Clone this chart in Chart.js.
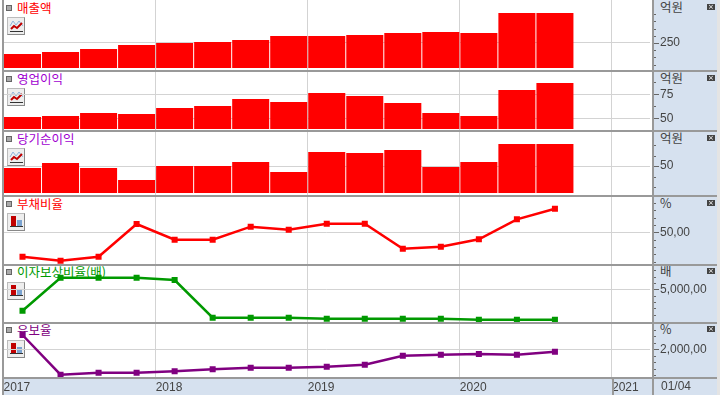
<!DOCTYPE html>
<html lang="ko">
<head>
<meta charset="UTF-8">
<title>재무 차트</title>
<script src="https://cdn.jsdelivr.net/npm/chart.js"></script>
<style>
  html, body { margin: 0; padding: 0; background: #fff; overflow: hidden; }
  #wrap { position: relative; width: 720px; height: 395px; font-family: "Noto Sans CJK KR", sans-serif; }
  #wrap > * { position: absolute; }
  canvas { left: 0; z-index: 2; }
  .side { left: 653px; top: 0; width: 64px; height: 395px; background: #d6e1ef; }
  .strip { left: 3px; top: 378px; width: 650px; height: 17px; background: #d6e1ef; }
  .edge { left: 717px; top: 0; width: 3px; height: 395px; background: #e4e4e4; }
  .hline { left: 2px; width: 715px; height: 2px; background: #999; z-index: 3; }
  .vline { width: 2px; background: #999; z-index: 3; }
  .title { left: 17px; font-size: 12.5px; line-height: 16px; z-index: 1; white-space: nowrap; }
  .unit { left: 660px; font-size: 12.5px; line-height: 14px; color: #444; z-index: 1; }
  .bullet { left: 6px; width: 4px; height: 4px; background: #aaa; border: 1px solid #666; z-index: 1; }
  .close { left: 707px; width: 8px; height: 6px; background: #444; color: #fff; font: 7px/6px "DejaVu Sans"; text-align: center; z-index: 3; }
  .icon { left: 7px; width: 16px; height: 16px; background: #eee; border: 1px solid #bbb; border-right-color: #888; border-bottom-color: #888; z-index: 1; }
  .stamp { left: 661px; top: 379px; font: 12px/15px "Liberation Sans", sans-serif; color: #444; z-index: 3; }
</style>
</head>
<body>
<div id="wrap">
  <div class="side"></div>
  <div class="strip"></div>
  <div class="edge"></div>
  <div class="vline" style="left:2px;top:0;height:395px"></div>
  <div class="vline" style="left:652px;top:0;height:395px"></div>
  <div class="vline" style="left:612px;top:378px;height:17px"></div>
  <div class="stamp">01/04</div>
</div>

<script>
  // 분기 (2017 1분기 ~ 2021 1분기)
  const periods = ['2017', '', '', '', '2018', '', '', '', '2019', '', '', '', '2020', '', '', '', '2021'];

  // 그림에서 읽은 값
  const sales = [174, 188, 208, 236, 250, 257, 271, 299, 299, 306, 319, 326, 319, 458, 458];
  const operatingProfit = [51.4, 52.4, 55.5, 54.5, 60.7, 62.8, 70.1, 67, 76.4, 73.2, 65.9, 55.5, 52.4, 79.5, 86.8];
  const netProfit = [48.1, 52.9, 48.1, 36.7, 50, 50, 53.8, 44.3, 63.3, 62.4, 65.2, 49, 53.8, 71, 71];
  const debtRatio = [16.6, 11.1, 16.6, 61.4, 39.9, 39.9, 57.7, 53.6, 61.8, 61.8, 27.5, 30.2, 40.4, 67.8, 82.3];
  const interestCoverage = [1603, 6841, 6841, 6841, 6476, 492, 492, 492, 333, 333, 333, 333, 175, 175, 175];
  const reserveRatio = [3100, 46, 200, 200, 308, 462, 585, 585, 662, 815, 1508, 1585, 1638, 1585, 1815];

  // 눈금
  const salesMajor = [250];
  const salesMinor = [100, 150, 200, 300, 350, 400, 450];
  const operatingMajor = [50, 75];
  const operatingMinor = [62.5, 87.5];
  const netMajor = [50];
  const netMinor = [30, 40, 60, 70];
  const debtMajor = [50];
  const debtMinor = [10, 20, 30, 40, 60, 70, 80, 90];
  const coverageMajor = [5000];
  const coverageMinor = [1000, 2000, 3000, 4000, 6000, 7000, 8000];
  const reserveMajor = [2000];
  const reserveMinor = [0, 500, 1000, 1500, 2500, 3000, 3500];

  const wrap = document.getElementById('wrap');
  const numFont = { family: '"Liberation Sans", sans-serif', size: 12 };

  // 오른쪽 축의 긴 눈금 / 짧은 눈금
  const sideTicks = {
    id: 'sideTicks',
    afterDraw(chart, args, opts) {
      const c = chart.ctx, y = chart.scales.y;
      c.save();
      c.fillStyle = '#666';
      opts.major.forEach(v => c.fillRect(654, Math.round(y.getPixelForValue(v)), 5, 1));
      opts.minor.forEach(v => c.fillRect(654, Math.round(y.getPixelForValue(v)), 2, 1));
      c.restore();
    }
  };

  function addDiv(cls, style, text) {
    const d = document.createElement('div');
    d.className = cls;
    d.style.cssText = style;
    if (text) d.textContent = text;
    wrap.appendChild(d);
  }

  function barIcon() {
    return '<svg width="16" height="16" style="display:block"><rect x="3" y="2" width="5" height="10" fill="#c00000"/><rect x="9" y="6" width="5" height="6" fill="#7ba3d0"/><rect x="2" y="12" width="13" height="1" fill="#333"/></svg>';
  }
  function lineIcon() {
    return '<svg width="16" height="16" style="display:block"><polyline points="2,8 5,3 8,7 11,3 15,8" fill="none" stroke="#8fb4dc"/><polyline points="3,11 6,8 9,10 14,5" fill="none" stroke="#c00000" stroke-width="2"/><rect x="2" y="13" width="13" height="1" fill="#333"/></svg>';
  }

  function makePanel(p) {
    const h = p.bottom - p.top + (p.last ? 18 : 0);
    const cv = document.createElement('canvas');
    cv.width = 720;
    cv.height = h;
    cv.style.top = p.top + 'px';
    wrap.appendChild(cv);

    addDiv('title', `top:${p.titleY - 8}px;color:${p.titleColor}`, p.title);
    addDiv('bullet', `top:${p.titleY - 3}px`);
    addDiv('unit', `top:${p.titleY - 8}px`, p.unit);
    addDiv('close', `top:${p.titleY - 4}px`, '×');
    addDiv('icon', `top:${p.iconY}px`);
    wrap.lastChild.innerHTML = p.type === 'bar' ? lineIcon() : barIcon();
    if (!p.last) addDiv('hline', `top:${p.bottom}px`);

    const dataset = p.type === 'bar'
      ? { data: p.values, backgroundColor: '#ff0000', base: p.base, barPercentage: 37 / 38, categoryPercentage: 1 }
      : { data: p.values, borderColor: p.color, backgroundColor: p.color, borderWidth: 2.5, pointStyle: 'rect', pointRadius: 2.5, tension: 0 };

    new Chart(cv, {
      type: p.type,
      data: { labels: periods, datasets: [dataset] },
      plugins: [sideTicks],
      options: {
        responsive: false,
        animation: false,
        layout: { autoPadding: false, padding: { left: 3.5, top: 0, right: 0, bottom: 0 } },
        plugins: {
          legend: { display: false },
          tooltip: { enabled: false },
          sideTicks: { major: p.major, minor: p.minor }
        },
        scales: {
          x: {
            offset: true,
            border: { display: false },
            grid: {
              offset: true,
              color: c => (c.index > 0 && c.index % 4 === 0 ? '#d3d3d3' : 'transparent'),
              drawTicks: !!p.last,
              tickLength: 3
            },
            ticks: {
              display: !!p.last,
              autoSkip: false,
              maxRotation: 0,
              align: 'start',
              labelOffset: -19,
              padding: 0,
              color: '#444',
              font: numFont
            },
            afterFit(s) { s.height = p.last ? 18 : 0; s.paddingLeft = 0; s.paddingRight = 0; }
          },
          y: {
            position: 'right',
            min: p.min,
            max: p.max,
            border: { display: false },
            grid: {
              color: c => (c.tick && p.major.includes(c.tick.value) ? '#d3d3d3' : 'transparent'),
              drawTicks: false
            },
            ticks: {
              autoSkip: false,
              padding: 10,
              color: '#444',
              font: numFont,
              callback: v => { const i = p.major.indexOf(v); return i >= 0 ? p.labels[i] : ''; }
            },
            afterBuildTicks(s) { s.ticks = p.major.concat(p.minor).sort((a, b) => a - b).map(v => ({ value: v })); },
            afterFit(s) { s.width = 70; s.paddingTop = 0; s.paddingBottom = 0; }
          }
        }
      }
    });
  }

  makePanel({ type: 'bar', title: '매출액', titleColor: '#ff0000', unit: '억원', values: sales, top: 0, bottom: 70, min: 62.5, max: 548.6, base: 76.4, major: salesMajor, minor: salesMinor, labels: ['250'], titleY: 8, iconY: 17 });
  makePanel({ type: 'bar', title: '영업이익', titleColor: '#a000d0', unit: '억원', values: operatingProfit, top: 70, bottom: 130, min: 37.8, max: 100.3, base: 38.9, major: operatingMajor, minor: operatingMinor, labels: ['50', '75'], titleY: 79, iconY: 88 });
  makePanel({ type: 'bar', title: '당기순이익', titleColor: '#a000d0', unit: '억원', values: netProfit, top: 130, bottom: 195, min: 22.4, max: 84.3, base: 24.3, major: netMajor, minor: netMinor, labels: ['50'], titleY: 139, iconY: 148 });
  makePanel({ type: 'line', title: '부채비율', titleColor: '#ff0000', color: '#ff0000', unit: '%', values: debtRatio, top: 195, bottom: 264, min: 6.6, max: 101.1, major: debtMajor, minor: debtMinor, labels: ['50,00'], titleY: 204, iconY: 213 });
  makePanel({ type: 'line', title: '이자보상비율(배)', titleColor: '#009900', color: '#009900', unit: '배', values: interestCoverage, top: 264, bottom: 322, min: -190, max: 9016, major: coverageMajor, minor: coverageMinor, labels: ['5,000,00'], titleY: 272, iconY: 282 });
  makePanel({ type: 'line', title: '유보율', titleColor: '#800080', color: '#800080', unit: '%', values: reserveRatio, top: 322, bottom: 377, min: -131, max: 4100, major: reserveMajor, minor: reserveMinor, labels: ['2,000,00'], titleY: 330, iconY: 340, last: true });
  addDiv('hline', 'top:377px');
</script>
</body>
</html>
